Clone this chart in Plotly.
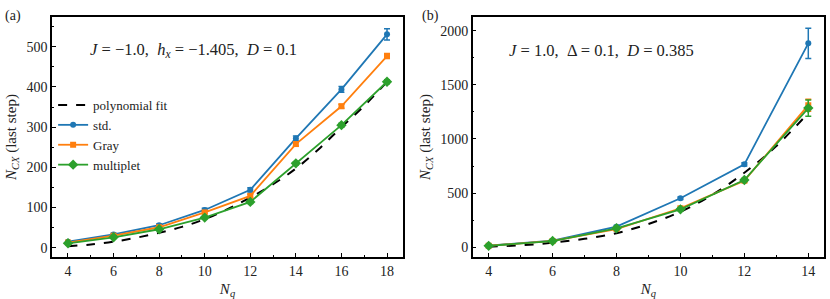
import plotly.graph_objects as go

# ---------------- data ----------------
# panel (a)
nq_a = [4, 6, 8, 10, 12, 14, 16, 18]
std_a = [15, 33, 56, 94, 144, 272, 394, 531]
std_a_err = [2, 3, 3, 4, 5, 6, 7, 14]
gray_a = [13, 30, 51, 88, 129, 258, 352, 477]
gray_a_err = [2, 2, 3, 3, 4, 5, 5, 6]
mult_a = [11, 26, 46, 75, 114, 210, 305, 413]
mult_a_err = [2, 2, 2, 3, 4, 4, 5, 5]
fit_nq_a = [4, 5, 6, 7, 8, 9, 10, 11, 12, 13, 14, 15, 16, 17, 18]
fit_a = [4, 8, 15, 25, 37, 52, 71, 96, 125, 158, 197, 245, 300, 353, 413]

# panel (b)
nq_b = [4, 6, 8, 10, 12, 14]
std_b = [15, 60, 190, 452, 766, 1883]
std_b_err = [3, 5, 10, 12, 15, 140]
gray_b = [14, 58, 168, 360, 615, 1312]
gray_b_err = [2, 4, 8, 10, 15, 55]
mult_b = [13, 57, 175, 350, 621, 1285]
mult_b_err = [2, 4, 8, 10, 15, 75]
fit_nq_b = [4, 5, 6, 7, 8, 9, 10, 11, 12, 13, 14]
fit_b = [5, 18, 42, 78, 130, 215, 328, 485, 688, 935, 1240]

BLUE, ORANGE, GREEN = "#1f77b4", "#ff7f0e", "#2ca02c"
FONT = "Liberation Serif"

fig = go.Figure()

def add_panel(xa, ya, nq, fnq, fit, series, show):
    fig.add_trace(go.Scatter(x=fnq, y=fit, mode="lines", name="polynomial fit",
                             line=dict(color="black", width=2, dash="dash", shape="spline"),
                             xaxis=xa, yaxis=ya, showlegend=show))
    for name, vals, err, col, sym, sz in series:
        fig.add_trace(go.Scatter(
            x=nq, y=vals, mode="lines+markers", name=name,
            line=dict(color=col, width=1.8),
            marker=dict(color=col, symbol=sym, size=sz),
            error_y=dict(type="data", array=err, color=col, thickness=1.5, width=3),
            xaxis=xa, yaxis=ya, showlegend=show))

add_panel("x", "y", nq_a, fit_nq_a, fit_a, [
    ("std.", std_a, std_a_err, BLUE, "circle", 6),
    ("Gray", gray_a, gray_a_err, ORANGE, "square", 6),
    ("multiplet", mult_a, mult_a_err, GREEN, "diamond", 8),
], True)
add_panel("x2", "y2", nq_b, fit_nq_b, fit_b, [
    ("std.", std_b, std_b_err, BLUE, "circle", 6),
    ("Gray", gray_b, gray_b_err, ORANGE, "square", 6),
    ("multiplet", mult_b, mult_b_err, GREEN, "diamond", 8),
], False)

axis_common = dict(showline=True, linecolor="black", linewidth=1.5, mirror=True,
                   ticks="inside", ticklen=4, tickwidth=1, tickcolor="black",
                   showgrid=False, zeroline=False, automargin=False,
                   tickfont=dict(family=FONT, size=14, color="#222"))

ytitle = "<i>N<sub>CX</sub></i> (last step)"
xtitle = "<i>N<sub>q</sub></i>"
tfont = dict(family=FONT, size=15, color="#222")

fig.update_layout(
    width=830, height=299,
    margin=dict(l=0, r=0, t=0, b=0),
    paper_bgcolor="white", plot_bgcolor="white",
    font=dict(family=FONT, size=14, color="#222"),
    xaxis=dict(domain=[0.0627, 0.4855], range=[3.3, 18.7], tickvals=[4, 6, 8, 10, 12, 14, 16, 18],
               minor=dict(ticks="inside", dtick=1, tick0=3, ticklen=2, tickcolor="black"),
               title=dict(text=xtitle, standoff=6, font=tfont), anchor="y", **axis_common),
    yaxis=dict(domain=[0.1405, 0.943], range=[-23, 574], tickvals=[0, 100, 200, 300, 400, 500],
               minor=dict(ticks="inside", dtick=50, tick0=0, ticklen=2, tickcolor="black"),
               title=dict(text=ytitle, standoff=6, font=tfont), anchor="x", **axis_common),
    xaxis2=dict(domain=[0.5695, 0.9931], range=[3.5, 14.5], tickvals=[4, 6, 8, 10, 12, 14],
                minor=dict(ticks="inside", dtick=1, tick0=3, ticklen=2, tickcolor="black"),
                title=dict(text=xtitle, standoff=6, font=tfont), anchor="y2", **axis_common),
    yaxis2=dict(domain=[0.1405, 0.943], range=[-90, 2126], tickvals=[0, 500, 1000, 1500, 2000],
                minor=dict(ticks="inside", dtick=250, tick0=0, ticklen=2, tickcolor="black"),
                title=dict(text=ytitle, standoff=6, font=tfont), anchor="x2", **axis_common),
    legend=dict(x=0.064, y=1 - 90 / 299, xanchor="left", yanchor="top", bgcolor="rgba(0,0,0,0)",
                font=dict(family=FONT, size=13, color="#222"), tracegroupgap=0, itemwidth=30),
    annotations=[
        dict(text="(a)", x=0.004, y=0.98, xref="paper", yref="paper", xanchor="left",
             yanchor="top", showarrow=False, font=dict(family=FONT, size=14)),
        dict(text="(b)", x=0.506, y=0.98, xref="paper", yref="paper", xanchor="left",
             yanchor="top", showarrow=False, font=dict(family=FONT, size=14)),
        dict(text="<i>J</i> = −1.0,  <i>h<sub>x</sub></i> = −1.405,  <i>D</i> = 0.1",
             x=88 / 830, y=1 - 50 / 299, xref="paper", yref="paper", xanchor="left",
             yanchor="middle", showarrow=False, font=dict(family=FONT, size=16.5)),
        dict(text="<i>J</i> = 1.0,  Δ = 0.1,  <i>D</i> = 0.385",
             x=507 / 830, y=1 - 50 / 299, xref="paper", yref="paper", xanchor="left",
             yanchor="middle", showarrow=False, font=dict(family=FONT, size=16.5)),
    ],
)

fig.write_html("out.html", config={"displayModeBar": False},
               post_script="document.body.style.margin='0';")
